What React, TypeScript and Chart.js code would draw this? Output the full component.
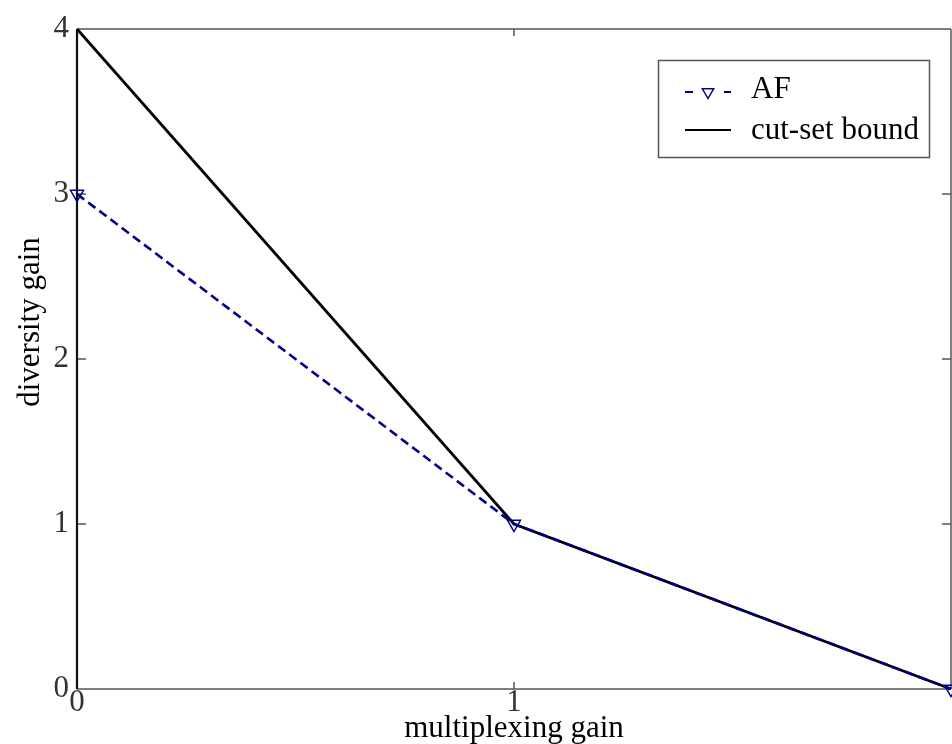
import React, { useEffect, useRef } from "react";
import { Chart, registerables } from "chart.js";

Chart.register(...registerables);

const xValues = [0, 1, 2];
const afValues = [3, 1, 0];
const cutSetValues = [4, 1, 0];
const xTickValues = [0, 1, 2];
const yTickValues = [0, 1, 2, 3, 4];
const seriesLabels = ["AF", "cut-set bound"];
const xTitle = "multiplexing gain";
const yTitle = "diversity gain";

const AF_COLOR = "#00008b";
const SERIF = "'Liberation Serif', 'Times New Roman', serif";

const framePlugin = {
  id: "frame",
  beforeDatasetsDraw(chart: any) {
    const { ctx, chartArea } = chart;
    const { left, right, top, bottom } = chartArea;
    const xs = chart.scales.x;
    const ys = chart.scales.y;
    ctx.save();
    ctx.strokeStyle = "#555";
    ctx.lineWidth = 1.5;
    ctx.beginPath();
    ctx.moveTo(left, top);
    ctx.lineTo(right, top);
    ctx.moveTo(left, bottom);
    ctx.lineTo(right, bottom);
    ctx.moveTo(right, top);
    ctx.lineTo(right, bottom);
    ctx.stroke();
    ctx.beginPath();
    xTickValues.forEach((v) => {
      const px = xs.getPixelForValue(v);
      if (px <= left + 1 || px >= right - 1) return;
      ctx.moveTo(px, bottom);
      ctx.lineTo(px, bottom - 7);
      ctx.moveTo(px, top);
      ctx.lineTo(px, top + 7);
    });
    yTickValues.forEach((v) => {
      const py = ys.getPixelForValue(v);
      if (py <= top + 1 || py >= bottom - 1) return;
      ctx.moveTo(left, py);
      ctx.lineTo(left + 9, py);
      ctx.moveTo(right, py);
      ctx.lineTo(right - 9, py);
    });
    ctx.stroke();
    ctx.strokeStyle = "#111";
    ctx.lineWidth = 2.2;
    ctx.beginPath();
    ctx.moveTo(left, top);
    ctx.lineTo(left, bottom);
    ctx.stroke();
    ctx.restore();
  },
};

function drawTriangleDown(ctx: CanvasRenderingContext2D, x: number, y: number, r: number) {
  ctx.beginPath();
  ctx.moveTo(x, y + r);
  ctx.lineTo(x - r * 0.866, y - r * 0.5);
  ctx.lineTo(x + r * 0.866, y - r * 0.5);
  ctx.closePath();
  ctx.stroke();
}

const legendPlugin = {
  id: "customLegend",
  afterDraw(chart: any) {
    const { ctx } = chart;
    ctx.save();
    // y axis title
    ctx.fillStyle = "#000";
    ctx.font = `31px ${SERIF}`;
    ctx.textAlign = "center";
    ctx.textBaseline = "middle";
    ctx.translate(31, 322);
    ctx.rotate(-Math.PI / 2);
    ctx.fillText(yTitle, 0, 0);
    ctx.restore();

    ctx.save();
    const bx = 658.5, by = 60.5, bw = 271, bh = 97;
    ctx.fillStyle = "#fff";
    ctx.fillRect(bx, by, bw, bh);
    ctx.strokeStyle = "#555";
    ctx.lineWidth = 1.5;
    ctx.strokeRect(bx, by, bw, bh);

    const y1 = 92;
    ctx.strokeStyle = AF_COLOR;
    ctx.lineWidth = 2;
    ctx.beginPath();
    ctx.moveTo(685, y1);
    ctx.lineTo(693, y1);
    ctx.moveTo(724, y1);
    ctx.lineTo(731, y1);
    ctx.stroke();
    ctx.lineWidth = 1.5;
    drawTriangleDown(ctx, 708, y1, 6.5);

    const y2 = 130;
    ctx.strokeStyle = "#000";
    ctx.lineWidth = 2;
    ctx.beginPath();
    ctx.moveTo(685, y2);
    ctx.lineTo(731, y2);
    ctx.stroke();

    ctx.fillStyle = "#000";
    ctx.font = `31px ${SERIF}`;
    ctx.textAlign = "left";
    ctx.textBaseline = "alphabetic";
    ctx.fillText(seriesLabels[0], 751, 98);
    ctx.fillText(seriesLabels[1], 751, 139);
    ctx.restore();
  },
};

export default function App() {
  const canvasRef = useRef<HTMLCanvasElement | null>(null);

  useEffect(() => {
    if (!canvasRef.current) return;
    const afData = xValues.map((x, i) => ({ x, y: afValues[i] }));
    const cutData = xValues.map((x, i) => ({ x, y: cutSetValues[i] }));
    const chart = new Chart(canvasRef.current, {
      type: "line",
      data: {
        datasets: [
          {
            label: seriesLabels[0],
            data: afData,
            borderColor: AF_COLOR,
            backgroundColor: "rgba(0,0,0,0)",
            borderWidth: 2.6,
            borderDash: [9, 5],
            pointStyle: "triangle",
            rotation: 180,
            pointRadius: 7.5,
            pointBorderWidth: 1.5,
            pointBorderColor: AF_COLOR,
            pointBackgroundColor: "rgba(0,0,0,0)",
            tension: 0,
            clip: false as any,
          },
          {
            label: seriesLabels[1],
            data: cutData,
            borderColor: "#000",
            backgroundColor: "rgba(0,0,0,0)",
            borderWidth: 2.7,
            pointRadius: 0,
            tension: 0,
            clip: false as any,
          },
        ],
      },
      options: {
        animation: false,
        responsive: false,
        devicePixelRatio: 1,
        layout: { padding: { top: 29, right: 7, left: 0, bottom: 0 } },
        plugins: {
          legend: { display: false },
          tooltip: { enabled: false },
        },
        scales: {
          x: {
            type: "linear",
            min: 0,
            max: 2,
            afterBuildTicks: (scale: any) => {
              scale.ticks = xTickValues.map((v) => ({ value: v }));
            },
            afterFit: (scale: any) => {
              scale.height = 55;
            },
            grid: { display: false, drawTicks: false },
            border: { display: false },
            ticks: {
              color: (c: any) => (c.tick && c.tick.value === 2 ? "rgba(0,0,0,0)" : "#333"),
              padding: 0,
              maxRotation: 0,
              autoSkip: false,
              font: { family: SERIF, size: 31, lineHeight: 0.9 },
            },
            title: {
              display: true,
              text: xTitle,
              color: "#000",
              font: { family: SERIF, size: 31, lineHeight: 1.2 },
              padding: { top: 0, bottom: -3 },
            },
          },
          y: {
            type: "linear",
            min: 0,
            max: 4,
            afterBuildTicks: (scale: any) => {
              scale.ticks = yTickValues.map((v) => ({ value: v }));
            },
            afterFit: (scale: any) => {
              scale.width = 77;
            },
            grid: { display: false, drawTicks: false },
            border: { display: false },
            ticks: {
              color: "#333",
              padding: 8,
              autoSkip: false,
              font: { family: SERIF, size: 31 },
            },
            title: { display: false },
          },
        },
      },
      plugins: [framePlugin, legendPlugin],
    } as any);
    return () => chart.destroy();
  }, []);

  return (
    <div
      style={{
        position: "fixed",
        left: 0,
        top: 0,
        width: 952,
        height: 744,
        overflow: "hidden",
        background: "#fff",
      }}
    >
      <div style={{ width: 960, height: 744 }}>
        <canvas ref={canvasRef} width={960} height={744} style={{ display: "block" }} />
      </div>
    </div>
  );
}
